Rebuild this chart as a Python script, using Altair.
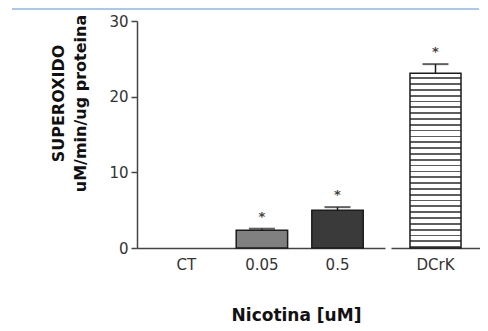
import altair as alt
import pandas as pd

# ---- data ----
categories = ["CT", "0.05", "0.5", "DCrK"]
values = [0.0, 2.35, 5.0, 23.1]
errors = [0.0, 0.2, 0.4, 1.2]
signif = ["", "*", "*", "*"]
y_ticks = [0, 10, 20, 30]
y_title = ["SUPEROXIDO", "uM/min/ug proteina"]
x_title = "Nicotina [uM]"
fills = ["#ffffff", "#808080", "#3a3a3a", "#ffffff"]

df = pd.DataFrame({"cat": categories, "value": values, "err": errors, "sig": signif})
df["top"] = df["value"] + df["err"]
left_df = df.iloc[:3].reset_index(drop=True)
right_df = df.iloc[3:].reset_index(drop=True)

FONT = "DejaVu Sans"
AX = "#444444"
EDGE = "#1c1c1c"
H = 227

yscale = alt.Scale(domain=[0, 30], nice=False)


def layers(data, xenc, fill_kw):
    base = alt.Chart(data)
    bars = base.mark_bar(stroke=EDGE, strokeWidth=1.5, **fill_kw["mark"]).encode(
        x=xenc, y=alt.Y("value:Q", scale=yscale, axis=fill_kw["yaxis"]), **fill_kw["enc"]
    ).transform_filter("datum.value > 0")
    rule = base.mark_rule(color=EDGE, strokeWidth=1.5).encode(
        x=xenc, y="value:Q", y2="top:Q"
    ).transform_filter("datum.err > 0")
    cap = base.mark_tick(color=EDGE, thickness=2, size=26, orient="horizontal").encode(
        x=xenc, y="top:Q"
    ).transform_filter("datum.err > 0")
    star = base.mark_text(dy=-12, fontSize=13, fontWeight="bold", color="#444444", font=FONT).encode(
        x=xenc, y="top:Q", text="sig:N"
    )
    return [bars, rule, cap, star]


xaxis_common = dict(labelAngle=0, ticks=False, tickSize=0, labelPadding=9,
                    labelFontSize=15, labelColor="#333333", domainColor=AX,
                    domainWidth=1.5)

# left panel
xl = alt.X("cat:N", sort=categories[:3],
           scale=alt.Scale(paddingInner=0.32, paddingOuter=0.3, align=0.52),
           axis=alt.Axis(title=x_title, titleX=159, titleY=59, titleAlign="center",
                         titleBaseline="top", titleFontSize=17, titleFontWeight="bold",
                         titleColor="#111111", **xaxis_common))
yaxis_left = alt.Axis(values=y_ticks, title=y_title, titleFontSize=16, titleFontWeight="bold",
                      titleColor="#111111", titleAngle=270, titleAlign="center",
                      titleBaseline="middle", titleX=-79, titleY=82, titleLineHeight=22,
                      tickSize=6, tickColor=AX, tickWidth=1.5, labelPadding=3,
                      labelFontSize=15, labelColor="#333333", domainColor=AX,
                      domainWidth=1.5, grid=False)
left_layers = layers(left_df, xl, {
    "mark": {},
    "enc": {"color": alt.Color("cat:N", scale=alt.Scale(domain=categories, range=fills), legend=None)},
    "yaxis": yaxis_left,
})
topline = alt.Chart(pd.DataFrame({"k": [0]})).mark_rule(color="#a8c8f0", strokeWidth=2).encode(
    x=alt.value(-125), x2=alt.value(342), y=alt.value(-12)
)
left = alt.layer(*left_layers, topline).properties(width=248, height=H)

# right panel
N = 30
stops = []
for i in range(N):
    a, b, c = i / N, (i + 0.7) / N, (i + 1) / N
    stops += [alt.GradientStop(offset=a, color="#ffffff"),
              alt.GradientStop(offset=b, color="#ffffff"),
              alt.GradientStop(offset=b, color="#5e5e5e"),
              alt.GradientStop(offset=c, color="#5e5e5e")]
grad = alt.LinearGradient(gradient="linear", stops=stops, x1=0, x2=0, y1=0, y2=1)

xr = alt.X("cat:N", sort=categories[3:],
           scale=alt.Scale(paddingInner=0.32, paddingOuter=0.253, align=0.5),
           axis=alt.Axis(title=None, **xaxis_common))
right_layers = layers(right_df, xr, {"mark": {"fill": grad}, "enc": {}, "yaxis": None})
right = alt.layer(*right_layers).properties(width=89, height=H)

chart = alt.hconcat(left, right, spacing=6, bounds="flush").properties(
    padding={"left": 3, "top": 0, "right": 0, "bottom": 0}
).configure(font=FONT).configure_view(stroke=None)

chart.save("out.html", embed_options={"renderer": "svg", "actions": False})
